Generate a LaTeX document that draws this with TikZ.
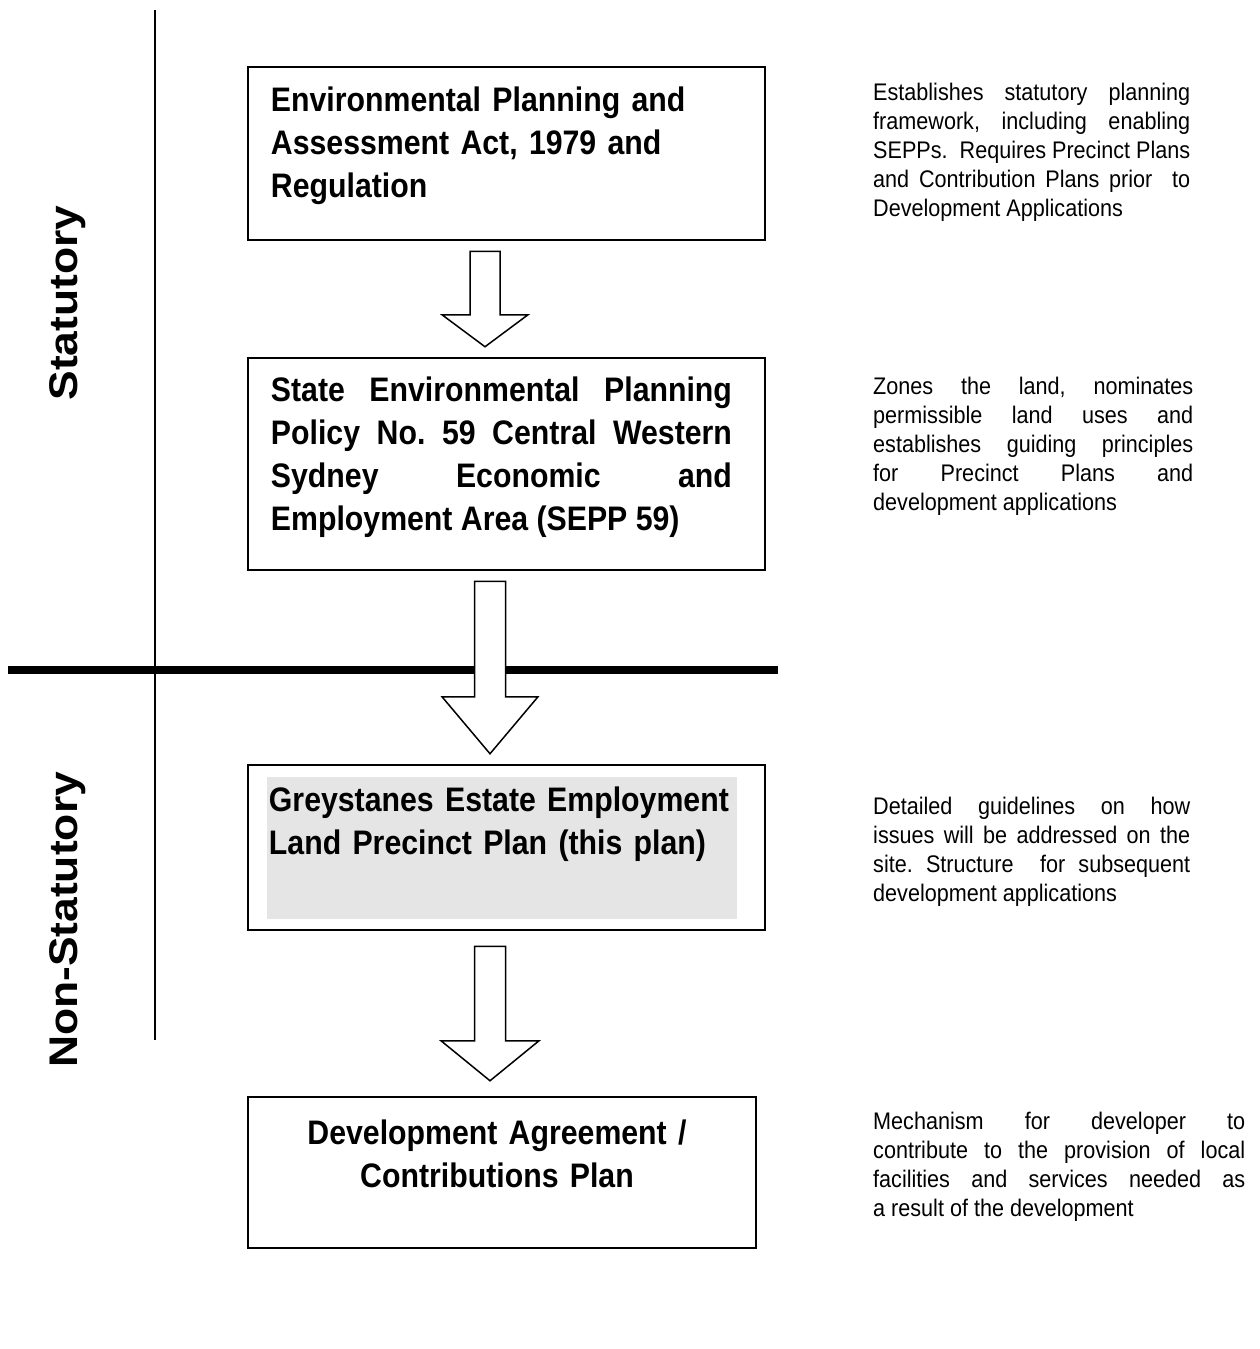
\documentclass[tikz,border=0pt]{standalone}
\usepackage{fontspec}
\setmainfont{Liberation Sans}[FakeStretch=0.9,BoldFeatures={FakeStretch=0.89}]
\newfontfamily\sidefont{Liberation Sans}[FakeStretch=1.11]
\usetikzlibrary{calc,positioning}
\frenchspacing

% hollow block arrow: from, to, dx, shaft half width, head half width, head length, gap
\newcommand{\flowarrow}[7]{%
  \coordinate (#1-top) at ($(#1.south)+(#3,#7)$);
  \coordinate (#2-in) at ($(#2.north)+(0,-#7)$);
  \coordinate (#2-tip) at (#1-top |- #2-in);
  \draw[hollow] ($(#1-top)+(-#4,0)$) -- ($(#2-tip)+(-#4,-#6)$)
    -- ($(#2-tip)+(-#5,-#6)$) -- (#2-tip) -- ($(#2-tip)+(#5,-#6)$)
    -- ($(#2-tip)+(#4,-#6)$) -- ($(#1-top)+(#4,0)$) -- cycle;}

\tikzset{
  frame/.style={draw=black,line width=2.5pt,minimum width=517pt,inner sep=0pt},
  boxtext/.style={anchor=north west,inner sep=0pt,text width=461pt,
    font=\fontsize{34}{43}\selectfont\bfseries},
  note/.style={anchor=north west,inner sep=0pt,text width=317pt,align=justify,
    font=\fontsize{24}{29}\selectfont},
  side/.style={rotate=90,inner sep=0pt,font=\sidefont\fontsize{40}{48}\selectfont\bfseries},
  hollow/.style={draw=black,fill=white,line width=1.5pt,line join=miter}
}

\begin{document}
\begin{tikzpicture}[x=1pt,y=-1pt]
  \useasboundingbox (0,0) rectangle (1259,1349);

  % divider lines
  \draw[line width=1.5pt] (155,10) -- (155,1040);
  \draw[line width=8pt] (8,670) -- (778,670);

  \node[side] (stat) at (68,303) {Statutory};
  \node[side] (nonstat) at (68,920) {Non-Statutory};

  % boxes
  \node[frame,minimum height=173pt] (epa) at (506.5,153.5) {};
  \node[boxtext,align=left,text width=480pt] (epa-txt) at ([shift={(24,21)}]epa.north west)
    {Environmental Planning and\\ Assessment Act, 1979 and\\ Regulation};

  \node[frame,minimum height=212pt] (sepp) at (506.5,464) {};
  \node[boxtext,align=justify] (sepp-txt) at ([shift={(24,20)}]sepp.north west)
    {State Environmental Planning\linebreak Policy No. 59 Central Western\linebreak
     Sydney Economic and\linebreak Employment Area (SEPP 59)};

  \node[frame,minimum height=165pt] (gel) at (506.5,847.5) {};
  \fill[black!10] ([shift={(20,13)}]gel.north west) rectangle ([shift={(-29,-12)}]gel.south east);
  \node[boxtext,align=left,text width=480pt] (gel-txt) at ([shift={(22,23)}]gel.north west)
    {Greystanes Estate Employment\\ Land Precinct Plan (this plan)};

  \node[frame,minimum width=508pt,minimum height=151pt] (dev) at (502,1172.5) {};
  \node[boxtext,anchor=north,align=center] (dev-txt) at ([shift={(-5,24)}]dev.north)
    {Development Agreement /\\ Contributions Plan};

  % arrows
  \flowarrow{epa}{sepp}{-21.5}{15}{43}{32}{10}
  \flowarrow{sepp}{gel}{-16.5}{15.5}{48}{57}{10}
  \flowarrow{gel}{dev}{-16.5}{15.5}{49}{40}{15}

  % notes
  \node[note] (epa-note) at (873,83)
    {Establishes statutory planning\linebreak framework, including enabling\linebreak
     SEPPs.\ \ Requires Precinct Plans\linebreak and Contribution Plans prior\ \ to\linebreak
     Development Applications};
  \node[note,text width=320pt] (sepp-note) at (873,377)
    {Zones the land, nominates\linebreak permissible land uses and\linebreak
     establishes guiding principles\linebreak for Precinct Plans and\linebreak
     development applications};
  \node[note] (gel-note) at (873,797)
    {Detailed guidelines on how\linebreak issues will be addressed on the\linebreak
     site. Structure\ \ for subsequent\linebreak development applications};
  \node[note,text width=372pt] (dev-note) at (873,1112)
    {Mechanism for developer to\linebreak contribute to the provision of local\linebreak
     facilities and services needed as\linebreak a result of the development};
\end{tikzpicture}
\end{document}
